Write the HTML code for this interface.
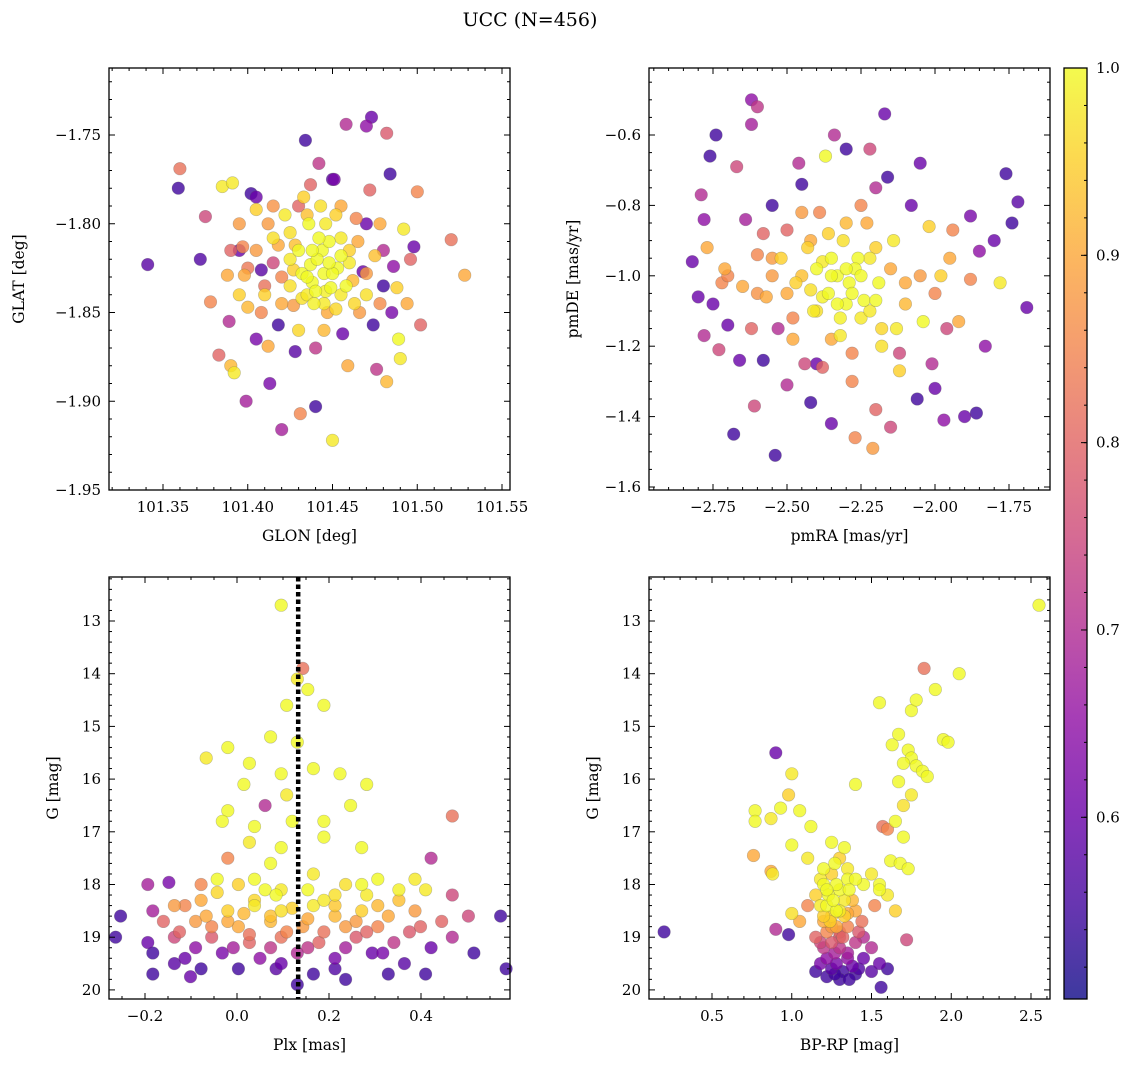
<!DOCTYPE html>
<html><head><meta charset="utf-8"><style>
body{margin:0;background:#fff;}
svg{display:block;font-family:"DejaVu Serif","Liberation Serif",serif;}
</style></head><body>
<svg id="fig" width="1136" height="1067" viewBox="0 0 1136 1067">
<defs>
<linearGradient id="cbgrad" x1="0" y1="1" x2="0" y2="0">
<stop offset="0" stop-color="#0d0887"/><stop offset="0.1" stop-color="#41049d"/><stop offset="0.2" stop-color="#6a00a8"/><stop offset="0.3" stop-color="#8f0da4"/><stop offset="0.4" stop-color="#b12a90"/><stop offset="0.5" stop-color="#cc4778"/><stop offset="0.6" stop-color="#e16462"/><stop offset="0.7" stop-color="#f2844b"/><stop offset="0.8" stop-color="#fca636"/><stop offset="0.9" stop-color="#fcce25"/><stop offset="1" stop-color="#f0f921"/>
</linearGradient>
</defs>
<text x="530" y="26" font-size="19" text-anchor="middle">UCC (N=456)</text>
</svg>
<script>
// ---- data ----
const tlGlon=[101.341,101.360,101.359,101.372,101.375,101.378,101.383,101.385,101.391,101.389,101.390,101.392,101.395,101.397,101.398,101.400,101.399,101.402,101.405,101.405,101.408,101.410,101.412,101.413,101.415,101.418,101.420,101.422,101.425,101.427,101.430,101.431,101.433,101.434,101.436,101.437,101.438,101.440,101.440,101.442,101.443,101.444,101.445,101.446,101.447,101.448,101.450,101.451,101.452,101.453,101.455,101.456,101.458,101.459,101.460,101.462,101.464,101.466,101.468,101.470,101.472,101.473,101.474,101.476,101.478,101.480,101.482,101.482,101.484,101.486,101.488,101.489,101.490,101.492,101.494,101.496,101.498,101.500,101.502,101.520,101.528,101.425,101.432,101.428,101.439,101.449,101.441,101.435,101.455,101.420,101.415,101.410,101.463,101.470,101.475,101.405,101.395,101.388,101.446,101.430,
101.425,101.430,101.435,101.440,101.445,101.450,101.455,101.458,101.442,101.448,101.438,101.432,101.427,101.452,101.460,101.418,101.412,101.408,101.465,101.470,101.478,101.420,101.400,101.390,101.445,101.435,101.455,101.415,101.470,101.428,101.480,101.405,101.395,101.450,101.437,101.485];
const tlGlat=[-1.823,-1.769,-1.780,-1.820,-1.796,-1.844,-1.874,-1.779,-1.777,-1.855,-1.880,-1.884,-1.800,-1.813,-1.829,-1.847,-1.900,-1.783,-1.785,-1.792,-1.826,-1.840,-1.869,-1.890,-1.808,-1.857,-1.916,-1.795,-1.820,-1.846,-1.860,-1.907,-1.785,-1.753,-1.800,-1.823,-1.833,-1.870,-1.903,-1.766,-1.790,-1.815,-1.828,-1.838,-1.850,-1.810,-1.922,-1.775,-1.795,-1.825,-1.840,-1.862,-1.744,-1.880,-1.815,-1.832,-1.797,-1.850,-1.827,-1.745,-1.781,-1.740,-1.857,-1.882,-1.800,-1.835,-1.889,-1.749,-1.772,-1.824,-1.836,-1.865,-1.876,-1.803,-1.845,-1.820,-1.813,-1.782,-1.857,-1.809,-1.829,-1.835,-1.828,-1.812,-1.845,-1.836,-1.820,-1.840,-1.818,-1.830,-1.822,-1.835,-1.845,-1.840,-1.818,-1.815,-1.840,-1.829,-1.800,-1.790,
-1.805,-1.815,-1.830,-1.838,-1.845,-1.828,-1.808,-1.835,-1.808,-1.822,-1.815,-1.842,-1.826,-1.848,-1.822,-1.812,-1.800,-1.850,-1.810,-1.828,-1.845,-1.845,-1.825,-1.815,-1.860,-1.795,-1.790,-1.790,-1.800,-1.872,-1.815,-1.865,-1.815,-1.775,-1.778,-1.850];
const tlProb=[0.58,0.82,0.55,0.57,0.75,0.85,0.80,0.98,0.98,0.70,0.92,0.98,0.88,0.85,0.90,0.92,0.68,0.55,0.6,0.95,0.58,0.95,0.9,0.62,0.97,0.55,0.68,0.98,0.98,0.88,0.96,0.85,0.95,0.55,1.0,1.0,1.0,0.72,0.55,0.72,0.97,1.0,1.0,0.99,0.9,1.0,0.98,0.62,0.95,1.0,0.98,0.6,0.7,0.9,0.95,0.92,0.85,0.88,0.6,0.65,0.8,0.6,0.55,0.72,0.9,0.55,0.92,0.78,0.55,0.65,0.95,1.0,0.98,0.98,0.9,0.8,0.6,0.85,0.8,0.82,0.9,0.97,1.0,0.93,0.99,1.0,1.0,0.98,1.0,0.85,0.75,0.82,0.96,0.97,0.93,0.88,0.95,0.9,0.98,0.8,
0.97,1.0,1.0,1.0,0.98,1.0,0.98,1.0,1.0,1.0,1.0,0.97,0.95,0.96,0.98,0.9,0.88,0.85,0.9,0.88,0.86,0.9,0.83,0.8,0.92,0.93,0.9,0.87,0.6,0.58,0.7,0.62,0.6,0.58,0.8,0.62];

const trPmra=[-2.82,-2.80,-2.79,-2.78,-2.77,-2.78,-2.75,-2.74,-2.76,-2.73,-2.72,-2.71,-2.70,-2.68,-2.67,-2.66,-2.64,-2.62,-2.62,-2.60,-2.61,-2.60,-2.58,-2.57,-2.55,-2.54,-2.53,-2.52,-2.50,-2.50,-2.48,-2.47,-2.46,-2.45,-2.44,-2.43,-2.42,-2.41,-2.40,-2.39,-2.38,-2.37,-2.36,-2.35,-2.34,-2.33,-2.32,-2.31,-2.30,-2.29,-2.28,-2.27,-2.26,-2.25,-2.24,-2.23,-2.22,-2.21,-2.20,-2.19,-2.18,-2.17,-2.16,-2.15,-2.14,-2.13,-2.12,-2.10,-2.08,-2.06,-2.05,-2.04,-2.02,-2.01,-2.00,-1.98,-1.97,-1.96,-1.94,-1.92,-1.90,-1.88,-1.86,-1.85,-1.83,-1.80,-1.78,-1.76,-1.74,-1.72,-1.69,-1.88,-2.35,-2.30,-2.38,-2.27,-2.22,-2.42,-2.32,-2.20,-2.36,-2.55,-2.65,
-2.35,-2.30,-2.28,-2.33,-2.25,-2.38,-2.40,-2.22,-2.45,-2.42,-2.20,-2.18,-2.50,-2.55,-2.60,-2.48,-2.15,-2.10,-2.05,-2.30,-2.25,-2.35,-2.28,-2.62,-2.00,-2.45,-2.20,-2.40,-2.12,-2.58,-2.70,-1.95];
const trPmde=[-0.96,-1.06,-0.77,-0.84,-0.92,-1.17,-1.08,-0.60,-0.66,-1.21,-1.02,-0.98,-1.14,-1.45,-0.69,-1.24,-0.84,-0.50,-0.57,-0.52,-1.37,-0.94,-1.24,-1.06,-0.80,-1.51,-1.15,-0.95,-1.31,-0.87,-1.18,-1.02,-0.68,-0.74,-1.25,-0.92,-1.36,-1.10,-0.98,-0.82,-1.26,-0.66,-1.05,-1.42,-0.60,-1.00,-1.17,-0.90,-0.64,-1.02,-1.30,-1.46,-0.95,-1.12,-1.07,-0.85,-0.64,-1.49,-1.38,-1.02,-1.20,-0.54,-0.72,-1.43,-0.90,-1.15,-1.27,-1.02,-0.80,-1.35,-0.68,-1.13,-0.86,-1.25,-1.32,-1.00,-1.41,-1.15,-0.87,-1.13,-1.40,-1.01,-1.39,-0.93,-1.20,-0.90,-1.02,-0.71,-0.85,-0.79,-1.09,-0.83,-0.95,-1.08,-1.06,-0.98,-0.95,-1.04,-1.12,-1.07,-0.88,-1.00,-1.03,
-1.00,-0.98,-1.05,-1.08,-1.00,-0.96,-1.10,-1.10,-1.00,-0.90,-0.92,-1.15,-1.05,-0.95,-1.05,-1.12,-0.98,-1.08,-1.00,-0.85,-0.80,-1.18,-1.22,-1.15,-1.05,-0.82,-0.75,-1.25,-1.22,-0.88,-1.00,-0.95];
const trProb=[0.6,0.6,0.7,0.65,0.9,0.7,0.6,0.55,0.55,0.75,0.85,0.9,0.6,0.55,0.75,0.6,0.68,0.65,0.68,0.72,0.75,0.85,0.55,0.9,0.55,0.55,0.7,0.95,0.7,0.8,0.9,0.95,0.7,0.55,0.75,0.95,0.55,0.98,1.0,0.85,0.8,1.0,1.0,0.6,0.7,1.0,0.98,0.97,0.55,1.0,0.85,0.85,1.0,0.98,1.0,0.9,0.75,0.88,0.8,1.0,0.97,0.6,0.55,0.75,0.98,0.98,0.95,0.9,0.6,0.55,0.6,1.0,0.95,0.7,0.6,0.95,0.65,0.75,0.85,0.9,0.6,0.85,0.55,0.65,0.65,0.6,0.98,0.55,0.55,0.58,0.6,0.62,1.0,1.0,0.99,1.0,0.98,0.97,0.99,1.0,0.95,0.88,0.9,
1.0,1.0,1.0,1.0,1.0,0.98,0.97,0.98,0.93,0.9,0.95,0.96,0.9,0.88,0.87,0.85,0.9,0.92,0.88,0.92,0.85,0.9,0.85,0.8,0.85,0.88,0.7,0.6,0.75,0.8,0.85,0.9];

const blPlx=[0.096,0.143,0.131,0.108,0.154,0.189,-0.067,-0.02,0.073,0.131,0.027,0.096,0.166,0.224,0.015,0.061,0.108,0.282,-0.02,-0.032,0.038,0.12,0.189,0.247,0.468,0.027,0.096,0.189,0.271,-0.02,0.422,0.073,0.166,0.306,-0.043,0.387,-0.194,-0.148,-0.078,0.003,0.061,0.154,0.236,0.282,0.468,0.41,-0.253,-0.183,-0.113,-0.067,-0.02,0.038,0.096,0.166,0.213,0.271,0.329,0.387,0.445,0.503,0.573,-0.16,-0.09,0.003,0.073,0.143,0.236,0.306,0.375,0.468,-0.264,-0.194,-0.136,-0.055,0.027,0.096,0.178,0.259,0.341,0.422,0.515,-0.183,-0.113,-0.032,0.05,0.131,0.213,0.294,0.364,-0.078,0.003,0.085,0.166,0.236,0.329,0.41,0.585,-0.183,0.131,-0.101,0.038,0.189,0.085,
-0.136,-0.078,-0.02,0.015,0.073,0.12,0.154,0.213,0.259,0.306,0.352,0.282,0.189,0.108,0.027,-0.055,-0.125,0.399,0.154,0.073,-0.008,-0.09,0.236,0.317,0.096,0.213,-0.136,0.096,0.213,0.038,0.271,0.352,-0.043];
const blG=[12.7,13.9,14.1,14.6,14.3,14.6,15.6,15.4,15.2,15.3,15.7,15.9,15.8,15.9,16.1,16.5,16.3,16.1,16.6,16.8,16.9,16.8,16.8,16.5,16.7,17.2,17.3,17.1,17.3,17.5,17.5,17.6,17.8,17.9,17.9,17.9,18.0,17.96,18.0,18.0,18.1,18.1,18.0,18.2,18.2,18.1,18.6,18.5,18.4,18.6,18.5,18.4,18.5,18.4,18.6,18.5,18.6,18.5,18.7,18.6,18.6,18.7,18.7,18.8,18.7,18.8,18.8,18.8,18.9,19.0,19.0,19.1,19.0,19.0,19.1,19.0,19.1,19.0,19.1,19.2,19.3,19.3,19.4,19.3,19.4,19.3,19.4,19.3,19.5,19.6,19.6,19.6,19.7,19.8,19.7,19.7,19.6,19.7,19.9,19.75,18.3,18.3,18.2,
18.4,18.3,18.7,18.55,18.6,18.45,18.65,18.4,18.7,18.4,18.3,18.9,18.9,18.9,18.95,18.8,18.9,18.8,19.2,19.2,19.2,19.2,19.2,19.3,19.5,19.6,19.5,18.1,18.2,17.9,18.0,18.1,18.15];
const blProb=[1.0,0.82,0.98,1.0,1.0,1.0,0.98,1.0,1.0,1.0,1.0,1.0,1.0,1.0,1.0,0.7,0.98,1.0,1.0,1.0,1.0,1.0,1.0,1.0,0.82,0.98,1.0,1.0,1.0,0.85,0.7,1.0,0.98,1.0,1.0,0.98,0.68,0.62,0.85,0.95,1.0,1.0,0.97,0.98,0.75,0.98,0.55,0.68,0.85,0.9,0.95,0.98,0.97,0.98,0.92,0.95,0.9,0.88,0.8,0.75,0.55,0.8,0.88,0.9,0.92,0.88,0.88,0.85,0.78,0.7,0.55,0.6,0.75,0.78,0.8,0.82,0.8,0.78,0.72,0.6,0.55,0.55,0.6,0.62,0.65,0.7,0.62,0.6,0.58,0.55,0.55,0.58,0.55,0.55,0.55,0.55,0.55,0.55,0.55,0.6,0.96,0.98,1.0,
0.88,0.9,0.9,0.92,0.93,0.95,0.9,0.94,0.88,0.92,0.93,0.8,0.82,0.85,0.82,0.85,0.8,0.8,0.72,0.72,0.68,0.65,0.68,0.62,0.6,0.57,0.58,0.98,0.97,1.0,1.0,0.99,0.96];

const brColor=[2.55,1.83,2.05,1.9,1.75,1.78,1.55,1.67,1.63,1.95,1.98,1.73,1.75,1.7,1.78,1.82,1.85,0.9,1.67,1.4,1.75,1.7,0.98,1.0,0.77,0.87,0.93,1.05,1.12,0.77,1.57,1.6,1.65,1.7,1.25,1.0,0.76,1.1,1.3,1.62,1.68,1.73,0.88,0.87,1.25,1.35,1.45,1.55,1.2,1.3,1.15,1.38,1.6,1.65,1.52,1.0,1.1,1.22,1.28,1.33,1.2,1.25,1.35,1.44,1.05,0.9,0.98,1.72,1.15,1.3,1.4,1.5,1.2,1.27,1.35,1.45,1.55,1.6,1.18,1.25,1.32,1.22,1.3,1.4,1.5,1.56,1.15,0.2,1.23,1.28,1.18,1.33,1.25,1.22,1.3,1.4,
1.22,1.26,1.3,1.24,1.28,1.32,1.25,1.3,1.35,1.22,1.28,1.38,1.42,1.2,1.27,1.35,1.4,1.36,1.18,1.2,1.35,1.42,1.18,1.45,1.27,1.36,1.33,1.5,1.55];
const brG=[12.7,13.9,14.0,14.3,14.7,14.5,14.55,15.15,15.35,15.25,15.3,15.45,15.6,15.7,15.75,15.85,15.95,15.5,16.05,16.1,16.3,16.5,16.3,15.9,16.6,16.75,16.55,16.6,16.9,16.8,16.9,16.95,16.8,17.1,17.2,17.25,17.45,17.5,17.5,17.55,17.6,17.7,17.8,17.75,17.8,17.9,18.0,18.0,18.0,18.1,18.2,18.3,18.2,18.5,18.4,18.55,18.4,18.4,18.5,18.6,18.7,18.8,18.8,18.7,18.7,18.85,18.95,19.05,19.0,19.0,19.1,19.2,19.2,19.3,19.4,19.4,19.5,19.6,19.5,19.6,19.65,19.75,19.8,19.7,19.65,19.95,19.65,18.9,18.2,18.0,17.9,18.3,18.6,18.9,18.9,18.5,
18.1,18.3,18.5,18.7,18.8,19.0,19.1,19.2,19.3,19.4,19.5,19.55,19.6,17.7,17.6,17.7,17.9,18.1,18.4,18.6,18.55,18.9,19.1,19.0,19.7,19.8,17.3,17.8,18.1];
const brProb=[1.0,0.82,1.0,1.0,1.0,1.0,1.0,1.0,1.0,1.0,1.0,1.0,1.0,1.0,1.0,1.0,1.0,0.6,1.0,1.0,0.98,0.97,0.95,0.98,1.0,0.98,1.0,1.0,1.0,1.0,0.82,0.85,1.0,1.0,1.0,1.0,0.9,0.98,0.95,1.0,1.0,1.0,0.98,0.9,0.95,1.0,1.0,1.0,1.0,1.0,0.95,0.92,0.98,0.95,0.85,0.97,0.85,1.0,1.0,0.95,0.9,0.88,0.85,0.82,0.9,0.7,0.55,0.75,0.8,0.78,0.72,0.7,0.72,0.68,0.65,0.6,0.6,0.55,0.62,0.58,0.55,0.55,0.55,0.55,0.58,0.55,0.55,0.55,1.0,1.0,0.98,0.98,0.95,0.85,0.8,0.9,
1.0,1.0,0.98,0.95,0.9,0.8,0.78,0.72,0.68,0.65,0.62,0.6,0.57,1.0,1.0,0.98,1.0,1.0,0.98,0.95,0.9,0.78,0.75,0.7,0.55,0.55,1.0,0.98,1.0];

const plxLine=0.133;
const cbMin=0.503, cbMax=1.0;
const cbTicks=[0.6,0.7,0.8,0.9,1.0];

// ---- helpers ----
const NS="http://www.w3.org/2000/svg";
const svg=document.getElementById('fig');
function mk(tag,attrs,parent){const e=document.createElementNS(NS,tag);for(const k in attrs)e.setAttribute(k,attrs[k]);(parent||svg).appendChild(e);return e;}
const stops=[[13,8,135],[65,4,157],[106,0,168],[143,13,164],[177,42,144],[204,71,120],[225,100,98],[242,132,75],[252,166,54],[252,206,37],[240,249,33]];
function plasma(t){t=Math.max(0,Math.min(1,t))*10;const i=Math.min(9,Math.floor(t)),f=t-i;const a=stops[i],b=stops[i+1];return `rgb(${Math.round(a[0]+(b[0]-a[0])*f)},${Math.round(a[1]+(b[1]-a[1])*f)},${Math.round(a[2]+(b[2]-a[2])*f)})`;}
function fmt(v,d){let s=v.toFixed(d);if(s.startsWith('-'))s='\u2212'+s.slice(1);return s;}

function panel(o){
  const g=mk('g',{},svg);
  
  
  const {x0,x1,y0,y1}=o;
  const sx=v=>x0+(v-o.xd[0])/(o.xd[1]-o.xd[0])*(x1-x0);
  const sy=v=>o.yinv? y0+(v-o.yd[0])/(o.yd[1]-o.yd[0])*(y1-y0) : y1-(v-o.yd[0])/(o.yd[1]-o.yd[0])*(y1-y0);
  const idx=o.xs.map((_,i)=>i).sort((a,b)=>o.ps[a]-o.ps[b]);
  const pg=mk('g',{},g);
  
  
  idx.forEach(i=>{
    const c=mk('circle',{cx:sx(o.xs[i]).toFixed(1),cy:sy(o.ys[i]).toFixed(1),r:6.3,fill:plasma((o.ps[i]-cbMin)/(cbMax-cbMin)),'fill-opacity':0.8,stroke:'#555','stroke-opacity':0.35,'stroke-width':0.6},pg);
    
    
  });
  if(o.vline!==undefined){
    const l=mk('line',{x1:sx(o.vline),x2:sx(o.vline),y1:y0,y2:y1,stroke:'#000','stroke-width':4.5,'stroke-dasharray':'4.5,3'},g);
    
    
  }
  const f=mk('rect',{x:x0,y:y0,width:x1-x0,height:y1-y0,fill:'none',stroke:'#000','stroke-width':1.3},g);
  
  
  const eps=1e-9;
  for(let v=Math.ceil(o.xd[0]/o.xminor-eps)*o.xminor; v<=o.xd[1]+eps; v+=o.xminor){
    const X=sx(v);const major=Math.abs(v/o.xmajor-Math.round(v/o.xmajor))<1e-6;const L=major?6:3;
    mk('line',{x1:X,x2:X,y1:y1,y2:y1-L,stroke:'#000','stroke-width':1},g);
    mk('line',{x1:X,x2:X,y1:y0,y2:y0+L,stroke:'#000','stroke-width':1},g);
    if(major){const t=mk('text',{x:X,y:y1+22,'font-size':15,'text-anchor':'middle'},g);t.textContent=fmt(Math.abs(v)<1e-9?0:v,o.xdec);
      }
  }
  for(let v=Math.ceil(o.yd[0]/o.yminor-eps)*o.yminor; v<=o.yd[1]+eps; v+=o.yminor){
    const Y=sy(v);const major=Math.abs(v/o.ymajor-Math.round(v/o.ymajor))<1e-6;const L=major?6:3;
    mk('line',{x1:x0,x2:x0+L,y1:Y,y2:Y,stroke:'#000','stroke-width':1},g);
    mk('line',{x1:x1,x2:x1-L,y1:Y,y2:Y,stroke:'#000','stroke-width':1},g);
    if(major){const t=mk('text',{x:x0-8,y:Y+5,'font-size':15,'text-anchor':'end'},g);t.textContent=fmt(v,o.ydec);
      }
  }
  const xl=mk('text',{x:(x0+x1)/2,y:y1+51,'font-size':15.5,'text-anchor':'middle'},g);xl.textContent=o.xlabel;
  
  const yl=mk('text',{x:0,y:0,'font-size':15.5,'text-anchor':'middle',transform:`translate(${o.ylx},${(y0+y1)/2}) rotate(-90)`},g);yl.textContent=o.ylabel;
  
}

panel({name:'glon-glat-panel',x0:109,x1:510,y0:68,y1:490,xd:[101.35-54/1695,101.35+347/1695],yd:[-1.95,-1.75+67/1775],xmajor:0.05,xminor:0.01,ymajor:0.05,yminor:0.01,xdec:2,ydec:2,xs:tlGlon,ys:tlGlat,ps:tlProb,xlabel:'GLON [deg]',ylabel:'GLAT [deg]',ylx:24});
panel({name:'proper-motion-panel',x0:649,x1:1050,y0:68,y1:490,xd:[-2.75-64/296,-2.75+337/296],yd:[-1.6-3/352,-0.6+67/352],xmajor:0.25,xminor:0.05,ymajor:0.2,yminor:0.05,xdec:2,ydec:1,xs:trPmra,ys:trPmde,ps:trProb,xlabel:'pmRA [mas/yr]',ylabel:'pmDE [mas/yr]',ylx:578});
panel({name:'parallax-magnitude-panel',x0:109,x1:510,y0:577,y1:999,yinv:true,xd:[-128/460,273/460],yd:[13-44/52.7,13+378/52.7],xmajor:0.2,xminor:0.05,ymajor:1,yminor:0.2,xdec:1,ydec:0,xs:blPlx,ys:blG,ps:blProb,vline:plxLine,xlabel:'Plx [mas]',ylabel:'G [mag]',ylx:58});
panel({name:'color-magnitude-panel',x0:649,x1:1050,y0:577,y1:999,yinv:true,xd:[0.5-63/159.5,0.5+338/159.5],yd:[13-44/52.7,13+378/52.7],xmajor:0.5,xminor:0.1,ymajor:1,yminor:0.2,xdec:1,ydec:0,xs:brColor,ys:brG,ps:brProb,xlabel:'BP-RP [mag]',ylabel:'G [mag]',ylx:598});

const cb=mk('g',{},svg);


const cbx0=1064,cbx1=1087,cby0=68,cby1=999;
mk('rect',{x:cbx0,y:cby0,width:cbx1-cbx0,height:cby1-cby0,fill:'url(#cbgrad)','fill-opacity':0.8},cb);
mk('rect',{x:cbx0,y:cby0,width:cbx1-cbx0,height:cby1-cby0,fill:'none',stroke:'#000','stroke-width':1.3},cb);
const cy=v=>cby1-(v-cbMin)/(cbMax-cbMin)*(cby1-cby0);
for(let v=0.52;v<=1.0001;v+=0.02){const Y=cy(v);mk('line',{x1:cbx1,x2:cbx1-3,y1:Y,y2:Y,stroke:'#000','stroke-width':1},cb);}
cbTicks.forEach(v=>{const Y=cy(v);mk('line',{x1:cbx1,x2:cbx1-6,y1:Y,y2:Y,stroke:'#000','stroke-width':1},cb);
  const t=mk('text',{x:cbx1+9,y:Y+5,'font-size':15},cb);t.textContent=v.toFixed(1);
  });
</script>
</body></html>
